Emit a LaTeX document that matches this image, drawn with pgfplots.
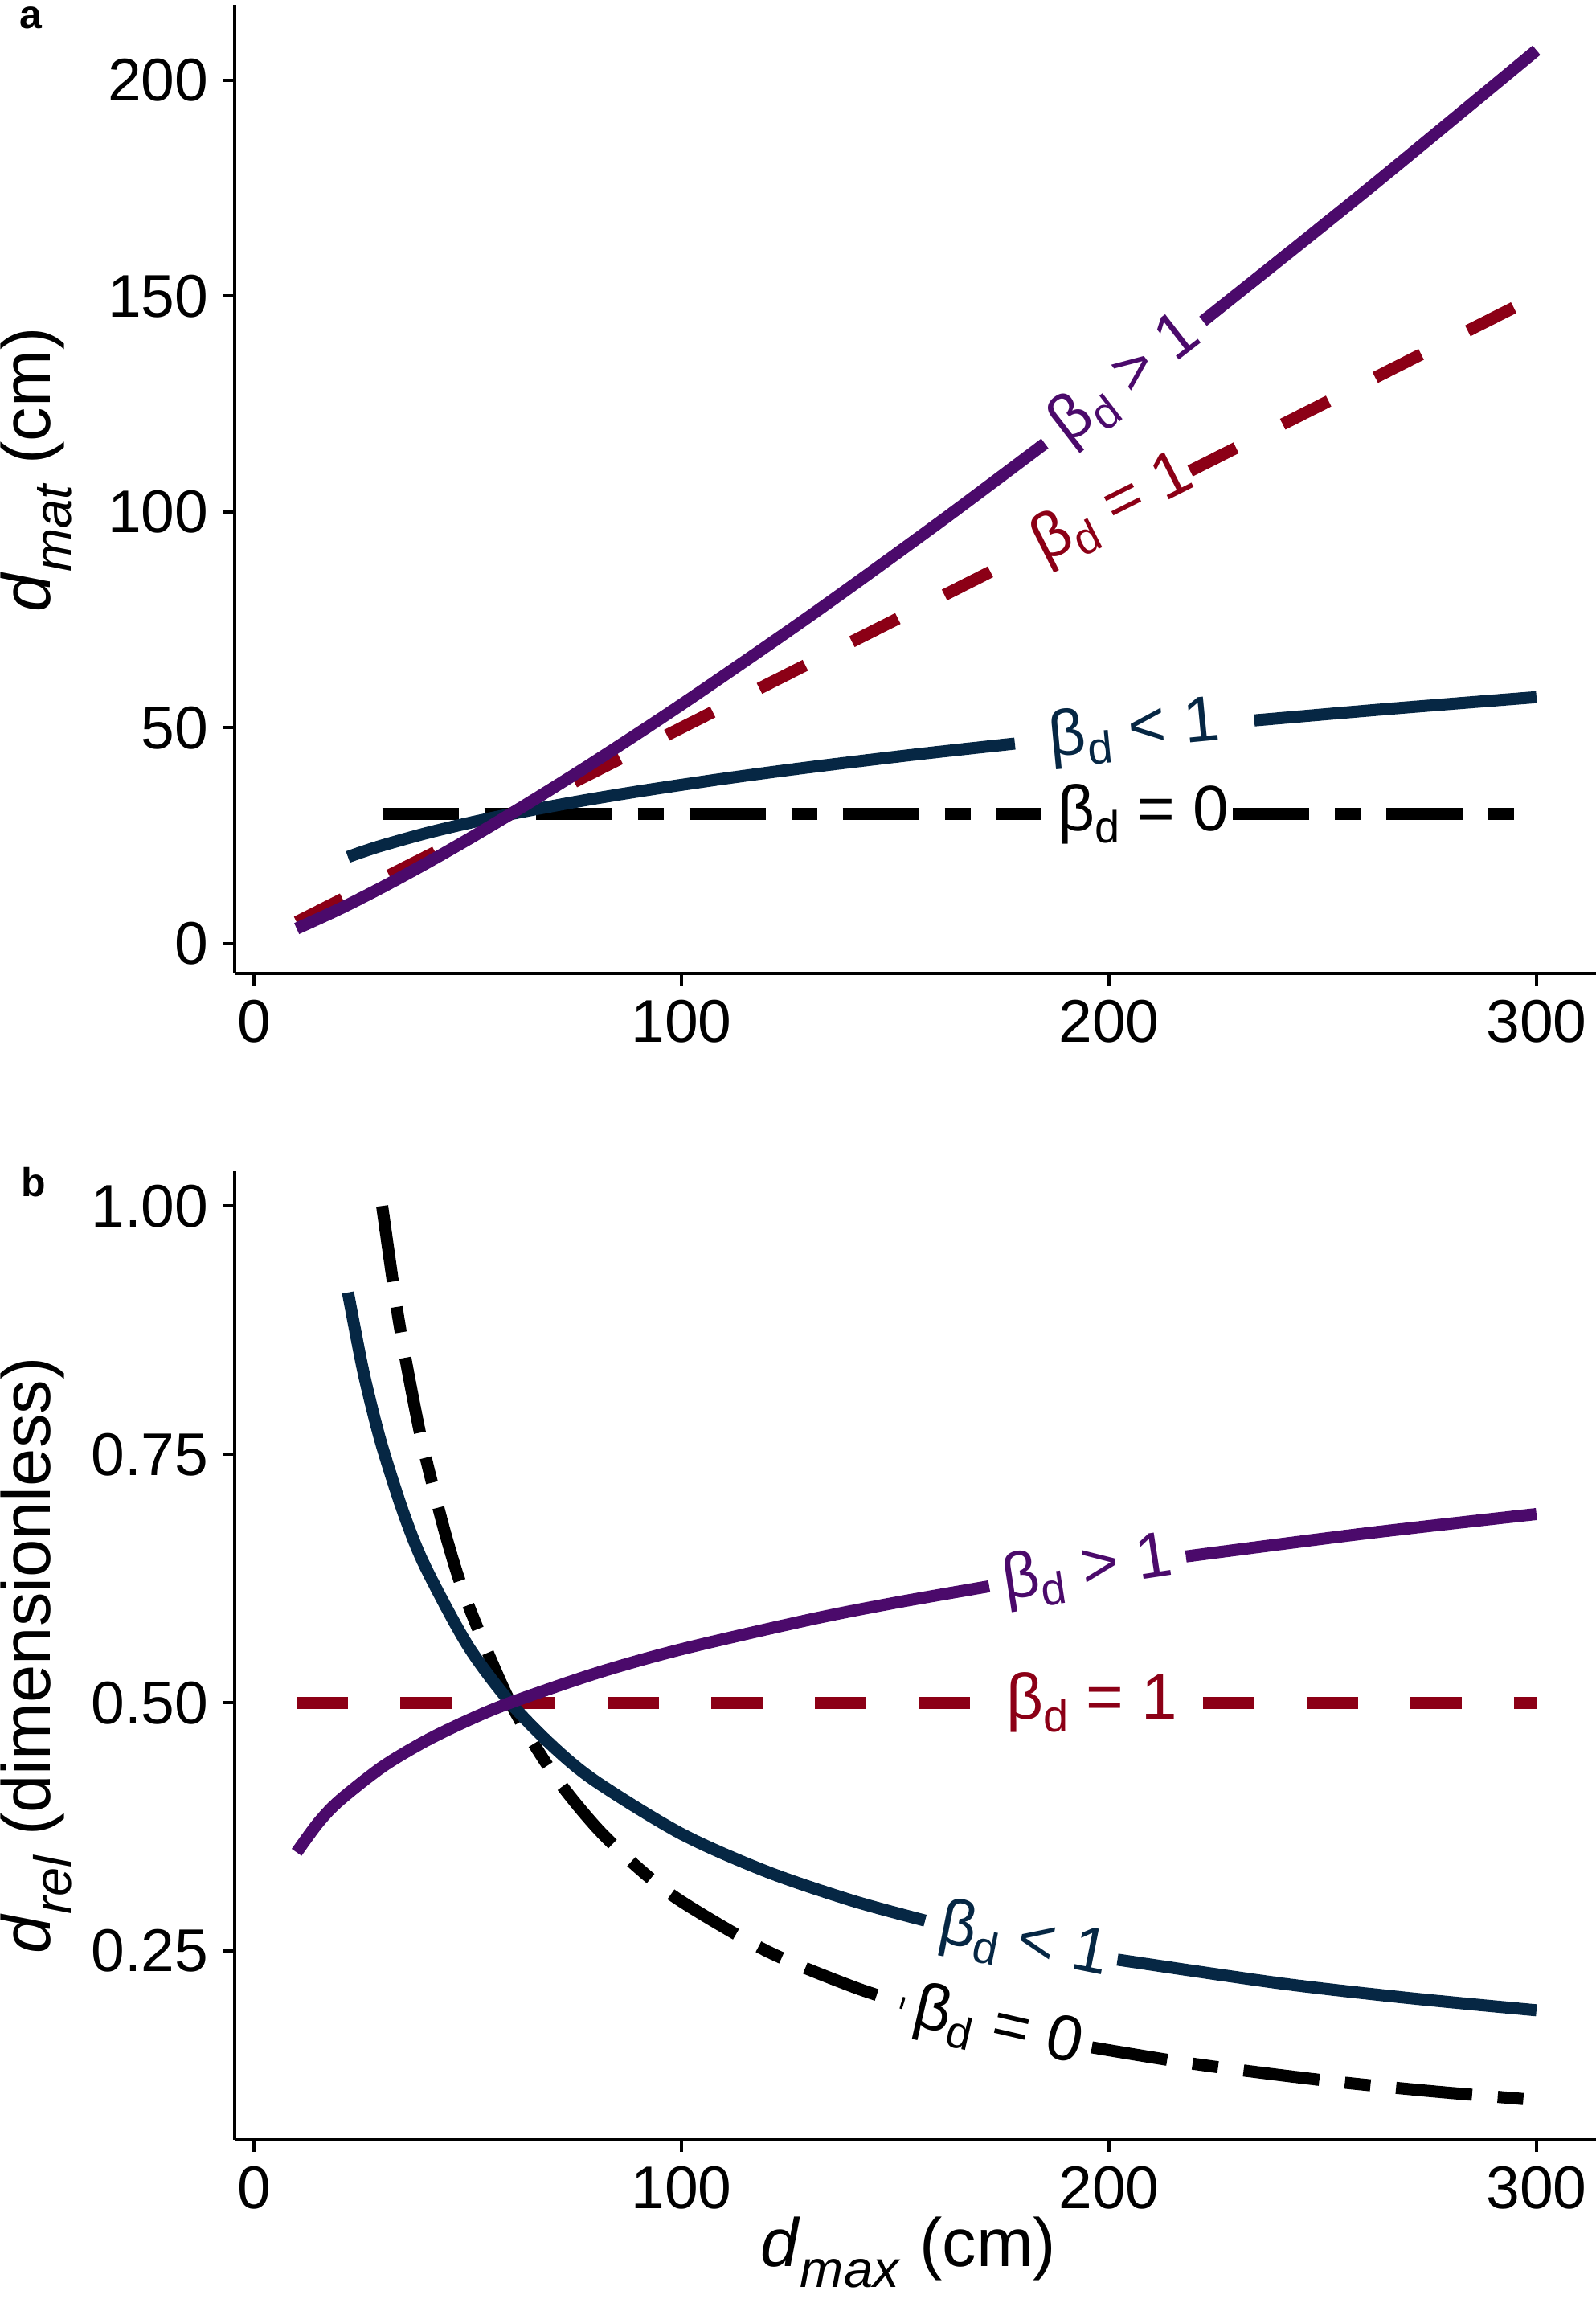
\documentclass[border=0pt]{standalone}
\usepackage{pgfplots}
\pgfplotsset{compat=1.18}
\usepackage{fontspec}
\setmainfont{Liberation Sans}
\definecolor{cpurp}{HTML}{4B0A6B}
\definecolor{cnavy}{HTML}{062744}
\definecolor{cred}{HTML}{8C0016}
\newcommand{\bd}{β\raisebox{-0.19em}{\fontsize{11.2}{11.2}\selectfont d}}
\newcommand{\labfont}{\fontsize{16}{16}\selectfont}
\newcommand{\ttl}[2]{\fontsize{17}{17}\selectfont\textit{#1}\raisebox{-0.3em}{\fontsize{13}{13}\selectfont\textit{#2}}}
\begin{document}
\begin{tikzpicture}
\path[use as bounding box] (0,0) rectangle (397pt,572pt);
\pgfplotsset{
 myaxis/.style={
  scale only axis, width=339.4pt, height=241pt, anchor=south west,
  axis lines*=left, axis line style={line width=0.8pt, -},
  tick align=outside, major tick length=3pt,
  tick style={line width=0.8pt, black},
  xmin=-4.5, xmax=314.5, xtick={0,100,200,300},
  tick label style={font=\fontsize{15}{15}\selectfont},
  /pgf/number format/assume math mode=true,
  clip=false,
  every axis plot/.append style={line width=3pt, line cap=butt, line join=round},
 },
}
% ---------------- panel a ----------------
\begin{axis}[myaxis, at={(58.4pt,329.8pt)},
  ymin=-6.9, ymax=217.5, ytick={0,50,100,150,200},
  ylabel={\ttl{d}{mat} (cm)},
  ylabel style={at={(axis description cs:-0.1456,0.52)}, anchor=center},
]
\addplot[black, dash pattern=on 19pt off 6.4pt on 6.4pt off 6.4pt] coordinates {(30,30) (184,30)};
\addplot[black, dash pattern=on 19pt off 6.4pt on 6.4pt off 6.4pt] coordinates {(229,30) (300,30)};
\addplot[cred, dash pattern=on 12.8pt off 13pt] coordinates {(10,5) (183,91.5)};
\addplot[cred, dash pattern=on 12.8pt off 13pt] coordinates {(219,109.5) (300,150)};
\addplot[cnavy, smooth] coordinates {(22,20.08) (25,21.14) (30,22.74) (40,25.51) (50,27.89) (60,30) (75,32.80) (90,35.28) (110,38.23) (130,40.87) (155,43.85) (178,46.35)};
\addplot[cnavy, smooth] coordinates {(234,51.71) (265,54.35) (300,57.11)};
\addplot[cpurp, smooth] coordinates {(10,3.49) (20,8.03) (30,13.06) (40,18.44) (50,24.10) (60,30) (70,36.10) (80,42.37) (100,55.38) (130,75.87) (160,97.34) (185,115.87)};
\addplot[cpurp, smooth] coordinates {(222,144.20) (260,174.31) (300,206.96)};
\node[rotate=37.7, text=cpurp, font=\labfont] at (axis cs:204,130.5) {\bd{} > 1};
\node[rotate=26.8, text=cred, font=\labfont] at (axis cs:201,100.5) {\bd{} = 1};
\node[rotate=5.5, text=cnavy, font=\labfont] at (axis cs:206,49.1) {\bd{} < 1};
\node[text=black, font=\labfont] at (axis cs:208,30) {\bd{} = 0};
\end{axis}
% ---------------- panel b ----------------
\begin{axis}[myaxis, at={(58.4pt,39.6pt)},
  ymin=0.06, ymax=1.035, ytick={0.25,0.5,0.75,1},
  yticklabel style={/pgf/number format/fixed, /pgf/number format/fixed zerofill, /pgf/number format/precision=2},
  ylabel={\ttl{d}{rel} (dimensionless)},
  ylabel style={at={(axis description cs:-0.1456,0.5)}, anchor=center},
  xlabel={\ttl{d}{max} (cm)},
  xlabel style={at={(axis description cs:0.494,-0.116)}, anchor=center},
]
\addplot[black, smooth, dash pattern=on 19pt off 6.4pt on 6.4pt off 6.4pt] coordinates {(30,1.0) (33,0.9091) (35,0.8571) (38,0.7895) (40,0.75) (45,0.6667) (50,0.6) (60,0.5) (70,0.4286) (80,0.375) (90,0.3333) (100,0.3) (120,0.25) (140,0.2143) (152,0.1974)};
\addplot[black, smooth, dash pattern=on 19pt off 6.4pt on 6.4pt off 6.4pt] coordinates {(196,0.1531) (220,0.1364) (250,0.12) (275,0.1091) (300,0.1)};
\addplot[cred, dash pattern=on 12.8pt off 13pt] coordinates {(10,0.5) (169,0.5)};
\addplot[cred, dash pattern=on 12.8pt off 13pt] coordinates {(222,0.5) (300,0.5)};
\addplot[cnavy, smooth] coordinates {(22,0.9129) (25,0.8455) (27,0.8073) (30,0.7579) (35,0.6909) (40,0.6377) (50,0.5578) (60,0.5) (70,0.4558) (80,0.4207) (100,0.3680) (120,0.3299) (140,0.3007) (157,0.2807)};
\addplot[cnavy, smooth] coordinates {(202,0.2414) (240,0.2176) (270,0.2028) (300,0.1904)};
\addplot[cpurp, smooth] coordinates {(10,0.3494) (15,0.3789) (20,0.4014) (30,0.4353) (40,0.4611) (50,0.4821) (60,0.5) (80,0.5296) (100,0.5538) (130,0.5836) (150,0.6006) (172,0.6172)};
\addplot[cpurp, smooth] coordinates {(218,0.6472) (260,0.6704) (300,0.6899)};
\node[rotate=8.6, text=cpurp, font=\labfont] at (axis cs:195,0.6329) {\bd{} > 1};
\node[text=cred, font=\labfont] at (axis cs:196,0.5) {\bd{} = 1};
\node[rotate=-11.3, text=cnavy, font=\labfont] at (axis cs:180,0.2586) {\bd{} < 1};
\node[rotate=-13, text=black, font=\labfont] at (axis cs:174,0.1724) {\bd{} = 0};
\end{axis}
\node[anchor=base west, font=\fontsize{10}{10}\selectfont\bfseries] at (1.4pt,564.8pt) {a};
\node[anchor=base west, font=\fontsize{10}{10}\selectfont\bfseries] at (1.8pt,274.2pt) {b};
\end{tikzpicture}
\end{document}
